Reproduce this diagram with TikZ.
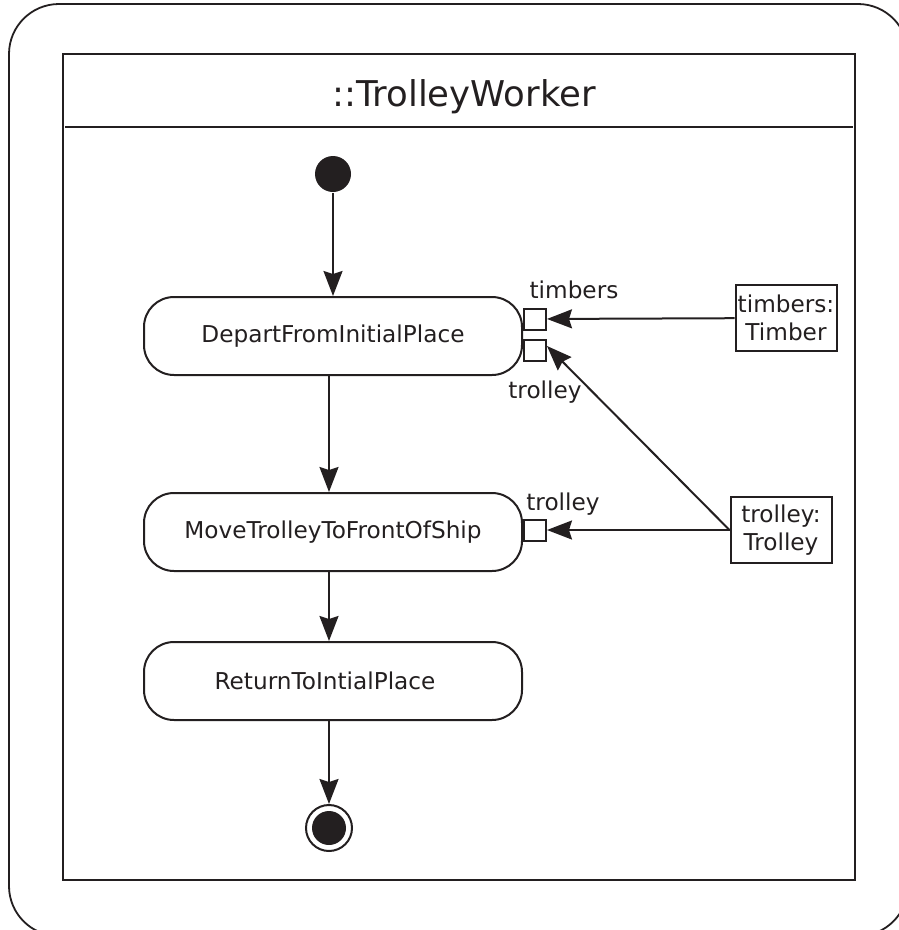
\documentclass[tikz,border=0pt]{standalone}
\usepackage{fontspec}
\setmainfont{DejaVu Sans}
\usetikzlibrary{arrows.meta,positioning}
\definecolor{umlink}{HTML}{231F20}

\begin{document}
\begin{tikzpicture}[x=1pt,y=-1pt,line width=2pt,color=umlink,
    >={Stealth[length=25pt,width=19pt,inset=3pt]},
    action/.style={draw,rounded corners=30pt,minimum width=378pt,%
      minimum height=78pt,font=\fontsize{23.2}{27}\selectfont},
    pinbox/.style={draw,minimum width=22pt,minimum height=21pt,inner sep=0pt},
    objbox/.style={draw,align=center,minimum width=101pt,minimum height=66pt,%
      inner sep=1pt,font=\fontsize{23.2}{28}\selectfont},
    pinlabel/.style={font=\fontsize{23.2}{27}\selectfont}]
    \useasboundingbox (0,0) rectangle (899,930);
    \begin{scope}
      \clip (0,0) rectangle (899,930);
      \draw[line width=1.8pt,rounded corners=50pt] (9,4) rectangle (908,936);
    \end{scope}
    % swimlane frame
    \draw (63,54) rectangle (855,880);
    \draw (65,127) -- (853,127);
    \node[font=\fontsize{35.5}{42}\selectfont] (lane) at (464,97) {::TrolleyWorker};

    \node[circle,fill=umlink,minimum size=36pt,inner sep=0pt] (start) at (333,174) {};
    \node[action] (depart) at (333,336) {DepartFromInitialPlace};
    \node[action] (move) at (333,532) {MoveTrolleyToFrontOfShip};
    \node[action] (return) at (333,681) {ReturnToIntialPlace\hspace*{16pt}};
    \node[circle,draw,minimum size=46pt,inner sep=0pt] (stop) at (329,828) {};
    \fill (stop.center) circle (17pt);

    % pins
    \node[pinbox] (timberpin) at (535,319) {};
    \node[pinbox] (trolleypin) at (535,350) {};
    \node[pinbox] (movepin) at (535,530) {};
    \node[pinlabel] (timberlbl) at (574,290) {timbers};
    \node[pinlabel] (trolleylbl) at (545,392) {trolley};
    \node[pinlabel] (movelbl) at (563,504) {trolley};

    % objects
    \node[objbox] (timberobj) at (786,318) {timbers:\\Timber};
    \node[objbox] (trolleyobj) at (781,530) {trolley:\\Trolley};

    \draw[->] (start) -- (depart);
    \draw[->] (depart.south -| stop) -- (move.north -| stop);
    \draw[->] (move.south -| stop) -- (return.north -| stop);
    \draw[->] (return.south -| stop) -- (stop);
    \draw[->] (timberobj) -- (timberpin);
    \draw[->] (trolleyobj.west) -- (movepin);
    \draw[->] (trolleyobj.west) -- ([yshift=4pt]trolleypin.east);
  \end{tikzpicture}
\end{document}
